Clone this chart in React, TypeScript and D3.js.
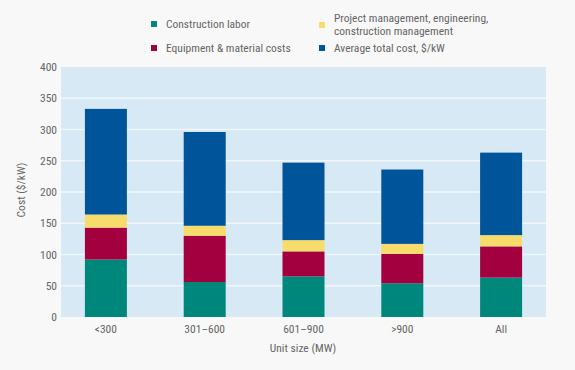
import React from "react";
import * as d3 from "d3";

const categories = ["<300", "301–600", "601–900", ">900", "All"];
const constructionLabor = [92, 56, 65, 54, 63];
const equipmentMaterial = [51, 74, 40, 47, 50];
const projectManagement = [21, 16, 18, 16, 18];
const averageTotal = [169, 150, 124, 119, 132];
const yTicks = [0, 50, 100, 150, 200, 250, 300, 350, 400];
const seriesNames = [
  "Construction labor",
  "Equipment & material costs",
  "Project management, engineering, construction management",
  "Average total cost, $/kW",
];
const seriesColors = ["#00877b", "#a3003f", "#f7dc6c", "#00549a"];

const W = 575;
const H = 370;
const plot = { left: 61, right: 546, top: 67, bottom: 317 };
const FONT = "'Liberation Sans Narrow', 'Roboto Condensed', Roboto, sans-serif";
const FS = 11.5;

export default function App() {
  const x = d3
    .scaleBand<string>()
    .domain(categories)
    .range([56.5, 550.5])
    .paddingInner(0.575)
    .paddingOuter(0.2875);
  const y = d3.scaleLinear().domain([0, 400]).range([plot.bottom, plot.top]);

  const rows = categories.map((c, i) => ({
    cat: c,
    s0: constructionLabor[i],
    s1: equipmentMaterial[i],
    s2: projectManagement[i],
    s3: averageTotal[i],
  }));
  const stack = d3.stack<any>().keys(["s0", "s1", "s2", "s3"]);
  const layers = stack(rows);

  const textColor = "#666";

  return (
    <svg
      width={W}
      height={H}
      style={{ position: "fixed", left: 0, top: 0, background: "#f8f8f8" }}
      fontFamily={FONT}
    >
      <rect x={0} y={0} width={W} height={H} fill="#f8f8f8" />
      <rect
        x={plot.left}
        y={plot.top}
        width={plot.right - plot.left}
        height={plot.bottom - plot.top}
        fill="#d6e9f5"
      />
      {yTicks.slice(1, -1).map((t) => (
        <line
          key={t}
          x1={plot.left}
          x2={plot.right}
          y1={y(t)}
          y2={y(t)}
          stroke="#f0f7fc"
          strokeWidth={1.5}
        />
      ))}
      {layers.map((layer, li) =>
        layer.map((d, i) => (
          <rect
            key={li + "-" + i}
            x={x(categories[i])}
            width={x.bandwidth()}
            y={y(d[1])}
            height={y(d[0]) - y(d[1])}
            fill={seriesColors[li]}
          />
        ))
      )}
      {yTicks.map((t) => (
        <text
          key={t}
          x={57}
          y={y(t)}
          dy="0.35em"
          textAnchor="end"
          fontSize={FS}
          fill={textColor}
        >
          {t}
        </text>
      ))}
      {categories.map((c) => (
        <text
          key={c}
          x={(x(c) as number) + x.bandwidth() / 2}
          y={329}
          dy="0.35em"
          textAnchor="middle"
          fontSize={FS}
          fill={textColor}
        >
          {c}
        </text>
      ))}
      <text
        x={303}
        y={348}
        dy="0.35em"
        textAnchor="middle"
        fontSize={FS}
        fill={textColor}
      >
        Unit size (MW)
      </text>
      <text
        transform={`translate(21,${(plot.top + plot.bottom) / 2 - 2}) rotate(-90)`}
        dy="0.35em"
        textAnchor="middle"
        fontSize={FS}
        fill={textColor}
      >
        Cost ($/kW)
      </text>
      <g fontSize={FS} fill={textColor}>
        <rect x={151} y={21} width={6} height={6} fill={seriesColors[0]} />
        <text x={166} y={24} dy="0.35em">{seriesNames[0]}</text>
        <rect x={151} y={45} width={6} height={6} fill={seriesColors[1]} />
        <text x={166} y={48} dy="0.35em">{seriesNames[1]}</text>
        <rect x={319} y={22} width={6} height={6} fill={seriesColors[2]} />
        <text x={334} y={18} dy="0.35em">Project management, engineering,</text>
        <text x={334} y={31} dy="0.35em">construction management</text>
        <rect x={319} y={45} width={6} height={6} fill={seriesColors[3]} />
        <text x={334} y={48} dy="0.35em">{seriesNames[3]}</text>
      </g>
    </svg>
  );
}
